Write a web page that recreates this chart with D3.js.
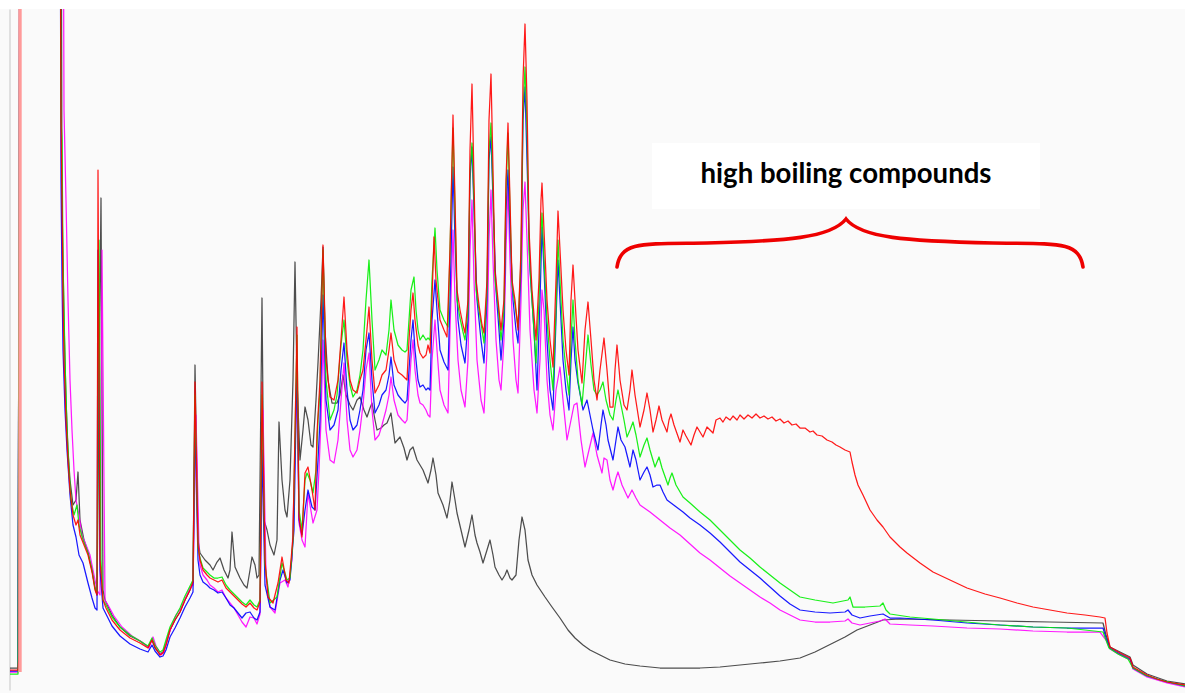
<!DOCTYPE html>
<html><head><meta charset="utf-8">
<script src="https://cdn.jsdelivr.net/npm/d3@7"></script>
<style>html,body{margin:0;padding:0;background:#fff;}svg{display:block;}</style>
</head><body><div id="chart"></div>
<script>
// x: scan number, y: detector response (arbitrary units).
const seriesNames = ["black", "magenta", "blue", "green", "red"];
const seriesColors = ["#3a3a3a", "#ff00ff", "#0000ff", "#00ee00", "#ff0000"];

const redTrace = [[0,20],[8,20],[9,35],[10,890],[50,890],[51,570],[52,490],[53,390],[54,330],[56,270],[58,230],[60,200],[63,175],[66,165],[68,170],[70,155],[74,145],[78,135],[82,118],[85,100],[87,95],[88,520],[90,130],[93,90],[96,82],[102,70],[110,60],[120,52],[130,47],[138,42],[142,50],[145,43],[150,35],[153,37],[156,45],[160,60],[165,70],[170,78],[175,90],[180,100],[183,108],[185,308],[188,145],[190,130],[193,120],[197,115],[200,112],[204,110],[208,108],[212,110],[216,102],[220,98],[224,94],[228,90],[232,86],[236,83],[240,87],[244,82],[247,80],[250,88],[252,308],[255,130],[258,93],[263,87],[268,107],[272,133],[276,110],[279,107],[283,153],[287,363],[289,173],[292,153],[295,217],[298,223],[302,200],[305,180],[307,257],[310,310],[313,445],[316,330],[320,293],[324,290],[328,310],[331,350],[334,393],[337,340],[340,310],[343,300],[347,297],[350,310],[353,320],[356,350],[359,383],[362,330],[365,297],[369,305],[372,315],[376,320],[379,340],[381,357],[384,330],[388,318],[392,315],[395,312],[397,310],[399,350],[401,380],[403,397],[405,370],[408,345],[410,337],[413,332],[416,335],[418,345],[420,337],[422,390],[424,453],[426,410],[430,370],[434,360],[437,353],[440,440],[443,575],[445,490],[447,400],[450,380],[453,365],[455,357],[458,390],[460,540],[462,606],[464,510],[466,410],[469,385],[472,365],[474,357],[477,410],[479,570],[481,616],[483,520],[485,420],[488,390],[491,360],[494,390],[496,510],[498,567],[500,490],[502,410],[505,390],[508,360],[511,440],[513,610],[515,666],[517,590],[519,460],[522,400],[526,350],[529,410],[531,490],[532,507],[534,460],[537,390],[540,350],[543,323],[546,410],[548,479],[550,440],[553,380],[556,340],[559,315],[561,390],[563,425],[565,390],[568,340],[572,307],[575,360],[578,388],[581,350],[584,310],[587,290],[590,320],[594,352],[597,320],[600,283],[603,283],[605,320],[607,345],[610,310],[614,285],[617,280],[620,300],[622,320],[625,295],[630,263],[634,280],[637,297],[640,280],[643,258],[646,270],[649,284],[652,270],[657,258],[659,270],[661,276],[664,265],[670,248],[673,260],[676,254],[681,245],[684,255],[687,263],[690,258],[693,253],[697,263],[700,260],[703,257],[706,270],[710,272],[713,268],[716,273],[720,270],[723,274],[727,270],[730,275],[734,271],[738,275],[742,272],[746,276],[750,272],[754,274],[758,271],[762,273],[766,269],[770,271],[774,267],[778,269],[782,265],[786,266],[790,262],[795,262],[800,258],[803,259],[807,255],[812,254],[817,250],[822,248],[826,245],[830,243],[835,240],[840,238],[842,228],[845,215],[848,205],[853,195],[860,180],[867,170],[873,163],[880,153],[890,143],[897,137],[910,127],[923,118],[940,110],[957,102],[975,96],[990,92],[1007,87],[1023,83],[1040,80],[1057,77],[1075,75],[1090,73],[1095,72],[1097,57],[1100,43],[1110,37],[1120,32],[1123,23],[1130,19],[1137,15],[1147,11],[1157,8],[1175,5]];

const greenTrace = [[0,16],[8,16],[10,890],[50,890],[51,570],[52,550],[53,430],[55,330],[57,260],[59,220],[61,190],[64,175],[67,185],[69,165],[73,150],[78,137],[82,120],[85,102],[87,97],[89,450],[91,130],[93,90],[96,85],[102,73],[110,63],[120,55],[130,49],[138,44],[142,52],[145,45],[150,38],[153,40],[156,50],[160,63],[165,73],[170,82],[175,94],[180,104],[183,110],[185,295],[188,142],[190,132],[193,122],[197,118],[200,115],[204,112],[208,112],[212,113],[216,105],[220,100],[224,96],[228,92],[232,88],[236,85],[240,90],[244,85],[247,83],[250,90],[252,295],[255,125],[260,87],[267,93],[272,127],[277,110],[280,112],[283,150],[287,355],[289,180],[292,160],[295,210],[297,217],[300,210],[303,197],[306,220],[308,270],[310,300],[313,440],[316,310],[320,270],[324,280],[327,295],[331,345],[334,370],[337,330],[340,305],[343,293],[347,300],[350,315],[353,340],[356,390],[359,430],[362,370],[365,320],[369,330],[372,340],[376,335],[379,360],[381,390],[384,360],[388,345],[392,340],[395,338],[397,340],[399,370],[401,400],[404,413],[406,380],[408,360],[410,350],[413,355],[416,350],[418,352],[420,350],[422,410],[425,462],[427,420],[430,380],[434,370],[438,363],[440,440],[443,562],[445,480],[447,390],[450,372],[453,358],[455,350],[458,380],[460,520],[462,547],[464,490],[466,400],[469,380],[472,360],[474,347],[477,400],[479,540],[481,567],[483,500],[485,410],[488,385],[491,350],[494,380],[496,500],[498,557],[500,480],[502,405],[505,385],[508,363],[511,430],[513,580],[515,623],[517,560],[519,440],[522,390],[526,327],[529,390],[531,460],[532,477],[534,430],[537,370],[540,330],[543,300],[546,380],[548,450],[550,410],[553,350],[556,320],[559,295],[561,350],[563,390],[565,350],[568,310],[572,285],[575,320],[578,355],[581,325],[584,300],[587,295],[590,300],[593,308],[596,290],[600,275],[603,270],[606,290],[608,300],[611,285],[614,270],[617,253],[620,260],[623,268],[626,255],[630,233],[634,245],[637,252],[640,240],[645,223],[647,228],[649,233],[652,222],[658,205],[660,212],[662,217],[666,205],[673,193],[680,187],[690,178],[700,170],[710,160],[720,150],[730,140],[740,132],[750,123],[760,115],[770,107],[780,100],[790,93],[805,90],[823,87],[838,90],[840,93],[843,83],[855,83],[870,84],[873,87],[876,80],[880,76],[900,73],[923,71],[956,68],[990,65],[1023,63],[1057,62],[1093,58],[1096,50],[1099,42],[1108,36],[1118,31],[1123,22],[1135,15],[1150,10],[1175,4]];

const blueTrace = [[0,19],[8,19],[10,890],[50,890],[51,510],[52,410],[53,340],[55,280],[57,240],[60,195],[63,165],[66,153],[69,135],[73,127],[78,107],[82,92],[85,82],[87,80],[88,440],[90,120],[93,82],[96,76],[102,64],[110,54],[120,46],[130,41],[138,38],[142,45],[145,39],[150,33],[153,34],[156,40],[160,53],[165,62],[170,72],[175,83],[180,92],[183,98],[185,270],[188,130],[190,115],[193,108],[197,105],[200,102],[204,100],[208,97],[212,98],[216,92],[220,85],[224,82],[228,77],[232,72],[236,77],[240,78],[244,72],[247,70],[250,78],[252,240],[255,105],[260,83],[265,80],[270,110],[273,120],[277,107],[280,110],[284,160],[287,330],[289,170],[292,155],[295,180],[298,200],[302,183],[305,180],[308,230],[310,270],[313,395],[316,290],[320,260],[324,265],[328,280],[331,320],[334,347],[337,300],[340,270],[343,260],[347,265],[350,280],[353,300],[356,340],[359,357],[362,310],[365,277],[369,285],[372,295],[376,300],[379,315],[381,333],[384,305],[388,295],[392,290],[395,287],[397,290],[399,320],[401,350],[403,370],[405,340],[408,310],[410,303],[413,305],[416,300],[418,302],[420,300],[422,370],[425,410],[427,380],[430,340],[434,328],[438,320],[440,390],[443,523],[445,450],[448,370],[451,345],[455,327],[458,370],[460,510],[462,543],[464,480],[467,390],[471,350],[474,327],[477,390],[479,530],[481,553],[483,490],[486,400],[489,360],[491,330],[494,370],[496,480],[498,520],[500,460],[503,390],[506,360],[508,347],[511,420],[513,570],[515,603],[517,530],[520,420],[524,360],[527,300],[530,390],[532,463],[534,420],[537,350],[540,300],[543,280],[546,370],[548,430],[550,390],[553,330],[556,300],[559,280],[561,330],[563,363],[565,330],[568,307],[573,280],[577,290],[580,275],[583,260],[588,240],[591,265],[593,280],[596,265],[598,250],[603,230],[606,250],[608,263],[611,250],[615,243],[620,223],[623,240],[626,230],[630,210],[634,218],[637,223],[640,215],[643,203],[647,205],[650,205],[653,198],[657,190],[665,184],[673,178],[680,172],[690,165],[700,157],[710,148],[720,138],[730,128],[740,120],[750,112],[760,103],[770,94],[780,86],[790,80],[805,78],[820,77],[835,78],[838,80],[842,75],[850,72],[860,74],[873,76],[880,72],[890,72],[923,70],[957,67],[990,65],[1023,63],[1057,62],[1093,62],[1096,52],[1100,42],[1110,36],[1120,31],[1123,22],[1137,14],[1157,8],[1175,4]];

const magentaTrace = [[0,18],[8,18],[10,890],[53,890],[54,580],[56,490],[58,390],[60,310],[62,260],[64,220],[66,190],[69,175],[72,155],[76,145],[80,135],[84,115],[87,100],[90,95],[92,440],[95,90],[98,85],[104,74],[112,63],[122,54],[132,48],[139,42],[143,53],[146,44],[151,35],[154,38],[157,50],[161,62],[166,75],[171,82],[176,93],[180,102],[183,105],[186,275],[189,140],[190,125],[193,115],[197,110],[200,105],[204,102],[208,98],[212,100],[216,92],[220,87],[224,82],[228,75],[232,68],[236,63],[240,73],[244,72],[247,66],[250,76],[253,280],[256,115],[260,83],[265,77],[270,107],[275,110],[278,103],[282,130],[287,310],[289,167],[292,150],[295,143],[298,197],[303,167],[307,180],[309,220],[311,270],[313,350],[316,260],[320,230],[324,227],[328,250],[331,290],[334,327],[337,270],[340,240],[343,233],[347,240],[350,260],[353,285],[356,320],[359,337],[362,280],[365,250],[369,255],[372,265],[376,280],[379,295],[381,313],[384,290],[388,275],[392,270],[395,267],[397,270],[399,300],[401,330],[403,350],[405,320],[408,295],[410,287],[413,285],[416,280],[418,275],[420,273],[422,330],[425,370],[427,340],[430,300],[434,285],[438,277],[440,360],[443,460],[445,390],[448,330],[451,300],[455,283],[458,330],[460,440],[462,490],[464,410],[467,330],[471,290],[474,277],[477,340],[479,450],[481,500],[483,430],[486,350],[489,310],[491,300],[494,350],[496,440],[498,503],[500,430],[503,350],[506,310],[508,297],[511,390],[513,480],[515,508],[517,450],[520,360],[524,300],[527,277],[530,330],[532,400],[534,380],[537,310],[540,275],[543,260],[546,300],[550,323],[553,290],[557,250],[561,270],[564,285],[567,287],[571,250],[575,223],[579,240],[583,257],[587,235],[592,217],[594,232],[597,230],[600,210],[603,200],[606,212],[608,218],[612,205],[618,192],[622,200],[626,192],[630,185],[640,178],[650,170],[660,162],[670,155],[680,146],[690,137],[700,130],[710,122],[720,114],[730,107],[740,100],[750,93],[760,87],[770,80],[780,75],[790,70],[805,68],[820,68],[835,69],[838,71],[842,67],[850,65],[860,67],[870,69],[875,71],[880,66],[900,65],[923,64],[957,62],[990,61],[1023,59],[1057,58],[1090,58],[1096,50],[1100,41],[1110,35],[1120,30],[1123,21],[1137,13],[1157,7],[1175,3]];

const blackTrace = [[0,22],[8,22],[10,890],[51,890],[52,490],[54,370],[56,290],[58,240],[60,210],[63,185],[66,190],[68,218],[70,170],[74,150],[78,138],[82,120],[85,102],[87,95],[91,492],[93,100],[95,90],[102,75],[110,63],[120,54],[130,49],[138,43],[142,50],[145,42],[150,36],[153,38],[156,46],[160,60],[165,70],[170,78],[175,90],[180,100],[183,108],[185,325],[188,150],[190,137],[195,130],[200,125],[203,120],[207,128],[210,132],[214,120],[218,112],[220,120],[222,158],[225,123],[230,112],[234,105],[237,102],[240,120],[242,133],[245,125],[247,112],[249,115],[252,392],[254,170],[257,160],[260,145],[264,135],[267,150],[269,268],[272,210],[275,180],[277,173],[280,210],[283,310],[285,428],[287,310],[290,230],[293,260],[295,283],[298,270],[301,245],[303,243],[306,290],[308,327],[311,390],[313,443],[315,360],[318,310],[322,287],[327,287],[330,295],[333,315],[336,295],[340,285],[343,280],[347,290],[350,293],[354,280],[357,273],[360,282],[362,287],[365,270],[367,260],[371,262],[374,265],[377,267],[381,277],[385,247],[390,253],[394,242],[397,230],[400,240],[403,243],[407,230],[410,225],[413,220],[418,207],[421,220],[423,232],[426,215],[428,197],[433,185],[437,172],[440,190],[442,208],[445,190],[447,177],[451,160],[455,143],[459,160],[462,175],[465,155],[467,147],[470,138],[473,127],[477,140],[480,150],[483,135],[485,123],[489,115],[492,110],[495,115],[497,120],[500,112],[502,110],[506,115],[509,150],[512,173],[515,160],[518,130],[522,115],[527,105],[535,93],[542,83],[550,72],[558,60],[565,52],[573,45],[580,40],[590,35],[600,30],[615,26],[630,24],[650,22],[670,22],[690,22],[710,23],[730,25],[750,27],[770,29],[790,32],[805,38],[823,47],[835,53],[847,60],[860,65],[873,70],[890,71],[940,70],[990,69],[1040,68],[1093,67],[1096,55],[1100,43],[1110,38],[1120,33],[1123,25],[1137,16],[1157,9],[1175,6]];

const solventFront = [[10,18],[10,890]];

// annotation
const annotationText = "high boiling compounds";
const braceStart = 607, braceEnd = 1073, braceTip = 836;     // scan numbers
const braceFoot = 423, braceArm = 447, braceTop = 471;       // response units
const labelCenter = 836, labelBaseline = 507;

const W = 1185, H = 693;
const svg = d3.select("#chart").append("svg").attr("width", W).attr("height", H);

const x = d3.scaleLinear().domain([0, 1175]).range([10, 1185]);
const y = d3.scaleLinear().domain([0, 681]).range([690, 9]);

svg.append("rect").attr("x", 0).attr("y", 0).attr("width", W).attr("height", H).attr("fill", "#ffffff");
svg.append("rect").attr("x", 0).attr("y", 9).attr("width", W).attr("height", H - 9).attr("fill", "#fafafa");

svg.append("defs").append("clipPath").attr("id", "plotclip")
  .append("rect").attr("x", 10).attr("y", 9).attr("width", W - 10).attr("height", H - 9);

// left axis line
const axis = svg.append("g").attr("transform", "translate(9.5,0)")
  .call(d3.axisLeft(y).ticks(0).tickSizeOuter(0));
axis.select(".domain").attr("stroke", "#d4d4d4").attr("stroke-width", 1.4);
axis.selectAll("text").remove();

const line = d3.line().x(d => x(d[0])).y(d => y(d[1]));
const plot = svg.append("g").attr("clip-path", "url(#plotclip)");

const traces = [blackTrace, magentaTrace, blueTrace, greenTrace, redTrace];
traces.forEach((t, i) => {
  plot.append("path").datum(t).attr("d", line)
    .attr("class", "trace " + seriesNames[i])
    .attr("fill", "none").attr("stroke", seriesColors[i])
    .attr("stroke-width", 1.25).attr("stroke-opacity", 0.9)
    .attr("stroke-linejoin", "round");
});

plot.append("path").datum(solventFront).attr("d", line)
  .attr("fill", "none").attr("stroke", "#ff9a9a").attr("stroke-width", 3.4);

// label box + text
const lx = x(labelCenter), ly = y(labelBaseline);
const box = svg.append("rect").attr("fill", "#ffffff");
const label = svg.append("text").attr("x", lx).attr("y", ly)
  .attr("text-anchor", "middle")
  .attr("font-family", "Lato, 'Open Sans', sans-serif")
  .attr("font-weight", "bold").attr("font-size", 26).attr("fill", "#000")
  .text(annotationText);
const len = label.node().getComputedTextLength();
const fs = 26 * 291 / len;
label.attr("font-size", fs);
box.attr("x", lx - 194).attr("y", ly - 40).attr("width", 388).attr("height", 66);

// brace
const p = d3.path();
const xs = x(braceStart), xe = x(braceEnd), xt = x(braceTip);
const yf = y(braceFoot), ya = y(braceArm), yt = y(braceTop);
p.moveTo(xs, yf);
p.bezierCurveTo(xs + 4, ya - 2, xs + 25, ya + 1, xs + 90, ya);
p.bezierCurveTo(xt - 60, ya - 2, xt - 15, ya - 5, xt, yt);
p.bezierCurveTo(xt + 15, ya - 5, xt + 60, ya - 2, xe - 90, ya);
p.bezierCurveTo(xe - 25, ya + 1, xe - 4, ya - 2, xe, yf);
svg.append("path").attr("d", p.toString()).attr("fill", "none")
  .attr("stroke", "#ee0000").attr("stroke-width", 3.6).attr("stroke-linecap", "round");
</script>
</body></html>
